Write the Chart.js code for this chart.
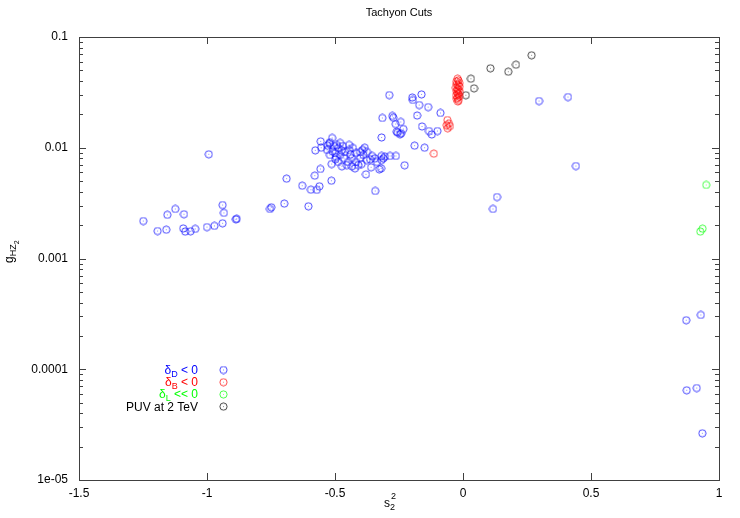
<!DOCTYPE html>
<html>
<head>
<meta charset="utf-8">
<script src="https://cdn.jsdelivr.net/npm/chart.js@4"></script>
<style>
	html, body { margin: 0; padding: 0; background: #fff; }
	canvas { display: block; }
</style>
</head>
<body>
<canvas id="chart" width="740" height="518"></canvas>
<script>
// [s2, g_HZ2] pairs
const bluePts = [
	[-1.249, 0.00218], [-1.193, 0.00177], [-1.159, 0.00182], [-1.155, 0.00248], [-1.124, 0.0028],
	[-1.09, 0.00251], [-1.093, 0.00187], [-1.085, 0.00175], [-1.064, 0.00176], [-1.046, 0.00185],
	[-1.0, 0.00192], [-0.971, 0.00197], [-0.939, 0.00208], [-0.939, 0.00304], [-0.934, 0.00258],
	[-0.887, 0.00226], [-0.884, 0.00228], [-0.993, 0.00873], [-0.754, 0.0028], [-0.749, 0.0029],
	[-0.698, 0.00313], [-0.689, 0.00526], [-0.628, 0.00454], [-0.604, 0.00296], [-0.594, 0.00418],
	[-0.571, 0.00416], [-0.561, 0.00449], [-0.579, 0.0056], [-0.557, 0.00643], [-0.514, 0.00504],
	[-0.577, 0.00948], [-0.556, 0.01143], [-0.554, 0.01], [-0.522, 0.01088], [-0.52, 0.0112],
	[-0.511, 0.01225], [-0.493, 0.01059], [-0.529, 0.01044], [-0.504, 0.01037], [-0.509, 0.00929],
	[-0.496, 0.00825], [-0.499, 0.00787], [-0.48, 0.00861], [-0.474, 0.00948], [-0.445, 0.00955],
	[-0.439, 0.00873], [-0.392, 0.00955], [-0.384, 0.01], [-0.389, 0.00861], [-0.513, 0.00713],
	[-0.473, 0.0068], [-0.454, 0.00698], [-0.434, 0.0068], [-0.422, 0.00652], [-0.409, 0.00698],
	[-0.396, 0.00713], [-0.376, 0.00775], [-0.363, 0.00787], [-0.344, 0.00803], [-0.318, 0.00843],
	[-0.305, 0.0083], [-0.285, 0.00843], [-0.262, 0.00843], [-0.318, 0.00775], [-0.311, 0.00803],
	[-0.32, 0.00652], [-0.359, 0.00666], [-0.379, 0.00575], [-0.228, 0.00695], [-0.343, 0.00407],
	[-0.327, 0.00639], [-0.318, 0.01238], [-0.259, 0.01396], [-0.242, 0.0135], [-0.233, 0.01476],
	[-0.189, 0.01044], [-0.15, 0.01], [-0.16, 0.01556], [-0.133, 0.01416], [-0.122, 0.01318],
	[-0.1, 0.01416], [-0.288, 0.0299], [-0.198, 0.0284], [-0.196, 0.027], [-0.162, 0.0303],
	[-0.171, 0.0243], [-0.136, 0.0233], [-0.088, 0.0206], [-0.315, 0.01857], [-0.276, 0.01936],
	[-0.272, 0.01866], [-0.263, 0.01637], [-0.243, 0.0171], [-0.179, 0.01955], [-0.255, 0.01368],
	[-0.246, 0.01323], [-0.48, 0.01104], [-0.461, 0.00916], [-0.434, 0.00807], [-0.418, 0.00897],
	[-0.402, 0.00807], [-0.488, 0.00744], [-0.465, 0.00807], [-0.449, 0.00744], [-0.418, 0.00744],
	[-0.375, 0.00916], [-0.355, 0.00843], [-0.336, 0.00744], [-0.531, 0.00955], [-0.52, 0.00861],
	[-0.5, 0.00897], [-0.488, 0.00995], [-0.469, 0.01037], [-0.402, 0.00916], [-0.43, 0.00995],
	[-0.445, 0.01059],
	[0.297, 0.0264], [0.41, 0.0287], [0.441, 0.00684], [0.117, 0.0028], [0.133, 0.00359],
	[0.872, 0.000277], [0.929, 0.000309], [0.874, 0.0000646], [0.913, 0.0000677], [0.935, 0.0000264]
];

const redPts = [
	[-0.021, 0.042], [-0.018, 0.0405], [-0.026, 0.0395], [-0.015, 0.0385], [-0.024, 0.0375],
	[-0.019, 0.0365], [-0.013, 0.0357], [-0.028, 0.0348], [-0.021, 0.034], [-0.017, 0.0332],
	[-0.025, 0.0325], [-0.012, 0.0318], [-0.022, 0.0311], [-0.018, 0.0304], [-0.027, 0.0297],
	[-0.015, 0.029], [-0.021, 0.0283], [-0.024, 0.0276], [-0.017, 0.0269], [-0.02, 0.0262],
	[-0.061, 0.0178], [-0.064, 0.016], [-0.051, 0.0157], [-0.06, 0.015], [-0.055, 0.0165],
	[-0.114, 0.00884]
];

const greenPts = [[0.95, 0.00461], [0.936, 0.00186], [0.927, 0.00175]];

const blackPts = [
	[0.011, 0.0298], [0.043, 0.0344], [0.031, 0.042], [0.107, 0.0522],
	[0.177, 0.0486], [0.207, 0.0562], [0.268, 0.0684]
];

const xTicks = [-1.5, -1, -0.5, 0, 0.5, 1];
const xTickLabels = ["-1.5", "-1", "-0.5", "0", "0.5", "1"];
const yTicks = [1e-5, 1e-4, 1e-3, 1e-2, 1e-1];
const yTickLabels = ["1e-05", "0.0001", "0.001", "0.01", "0.1"];

const legendItems = [
	{ base: "δ", sub: "D", rest: " < 0", color: "#0000ff" },
	{ base: "δ", sub: "B", rest: " < 0", color: "#ff0000" },
	{ base: "δ", sub: "L", rest: " << 0", color: "#00ff00" },
	{ base: "PUV at 2 TeV", sub: "", rest: "", color: "#000000" },
];

const FONT = "'Liberation Sans', Arial, sans-serif";
const FRAME = "#404040";

// gnuplot style open circle with a faint dot in the middle
function ring(color) {
	const c = document.createElement("canvas");
	c.width = 9;
	c.height = 9;
	const g = c.getContext("2d");
	g.strokeStyle = color;
	g.lineWidth = 1;
	g.globalAlpha = 0.72;
	g.beginPath();
	g.arc(4.5, 4.5, 3.6, 0, Math.PI * 2);
	g.stroke();
	g.globalAlpha = 0.45;
	g.fillStyle = color;
	g.fillRect(4, 4, 1, 1);
	return c;
}

const rings = legendItems.map((it) => ring(it.color));

function toXY(arr) {
	return arr.map((p) => ({ x: p[0], y: p[1] }));
}

const frameAndText = {
	id: "frameAndText",
	beforeDatasetsDraw(chart) {
		const ctx = chart.ctx;
		const a = chart.chartArea;
		const xs = chart.scales.x;
		const ys = chart.scales.y;
		ctx.save();
		ctx.strokeStyle = FRAME;
		ctx.lineWidth = 1;
		ctx.strokeRect(Math.round(a.left) + 0.5, Math.round(a.top) + 0.5,
			Math.round(a.right - a.left), Math.round(a.bottom - a.top));
		ctx.beginPath();
		xTicks.forEach((v) => {
			const px = Math.round(xs.getPixelForValue(v)) + 0.5;
			ctx.moveTo(px, a.bottom); ctx.lineTo(px, a.bottom - 7);
			ctx.moveTo(px, a.top); ctx.lineTo(px, a.top + 7);
		});
		yTicks.forEach((v) => {
			const py = Math.round(ys.getPixelForValue(v)) + 0.5;
			ctx.moveTo(a.left, py); ctx.lineTo(a.left + 7, py);
			ctx.moveTo(a.right, py); ctx.lineTo(a.right - 7, py);
		});
		for (let d = 1e-5; d < 0.09; d *= 10) {
			for (let k = 2; k <= 9; k++) {
				const py = Math.round(ys.getPixelForValue(k * d)) + 0.5;
				ctx.moveTo(a.left, py); ctx.lineTo(a.left + 4, py);
				ctx.moveTo(a.right, py); ctx.lineTo(a.right - 4, py);
			}
		}
		ctx.stroke();
		ctx.restore();
	},
	afterDraw(chart) {
		const ctx = chart.ctx;
		const a = chart.chartArea;
		ctx.save();
		ctx.fillStyle = "#000";
		ctx.textBaseline = "alphabetic";

		// title
		ctx.font = "11px " + FONT;
		ctx.textAlign = "center";
		ctx.fillText("Tachyon Cuts", (a.left + a.right) / 2, 16);

		// x title: s_2^2
		ctx.textAlign = "left";
		let x0 = 384;
		ctx.font = "12px " + FONT;
		ctx.fillText("s", x0, 507);
		const sw = ctx.measureText("s").width;
		ctx.font = "9px " + FONT;
		ctx.fillText("2", x0 + sw, 510);
		ctx.fillText("2", x0 + sw + 1, 499);

		// y title: g_{HZ_2}
		ctx.save();
		ctx.translate(12.5, 263);
		ctx.rotate(-Math.PI / 2);
		ctx.font = "12px " + FONT;
		ctx.fillText("g", 0, 0);
		let w = ctx.measureText("g").width;
		ctx.font = "9px " + FONT;
		ctx.fillText("HZ", w, 3);
		w += ctx.measureText("HZ").width;
		ctx.font = "7px " + FONT;
		ctx.fillText("2", w, 6);
		ctx.restore();

		// key
		legendItems.forEach((it, i) => {
			const cy = 370 + i * 12.2;
			ctx.font = "12px " + FONT;
			const bw = ctx.measureText(it.base).width;
			const rw = ctx.measureText(it.rest).width;
			ctx.font = "9px " + FONT;
			const subw = ctx.measureText(it.sub).width;
			let tx = 198 - (bw + subw + rw);
			ctx.fillStyle = it.color;
			ctx.font = "12px " + FONT;
			ctx.fillText(it.base, tx, cy + 4);
			tx += bw;
			ctx.font = "9px " + FONT;
			ctx.fillText(it.sub, tx, cy + 7);
			tx += subw;
			ctx.font = "12px " + FONT;
			ctx.fillText(it.rest, tx, cy + 4);
			ctx.drawImage(rings[i], 223.5 - 4.5, cy - 4.5);
		});
		ctx.restore();
	},
};

const ctx = document.getElementById("chart").getContext("2d");
const chart = new Chart(ctx, {
	type: "scatter",
	data: {
		datasets: [
			{ label: "dD", data: toXY(bluePts), pointStyle: rings[0], pointRadius: 4 },
			{ label: "dB", data: toXY(redPts), pointStyle: rings[1], pointRadius: 4 },
			{ label: "dL", data: toXY(greenPts), pointStyle: rings[2], pointRadius: 4 },
			{ label: "PUV", data: toXY(blackPts), pointStyle: rings[3], pointRadius: 4 },
		],
	},
	options: {
		responsive: false,
		animation: false,
		events: [],
		layout: { padding: { top: 37, right: 21, left: 0, bottom: 0 } },
		plugins: {
			legend: { display: false },
			title: { display: false },
			tooltip: { enabled: false },
		},
		scales: {
			x: {
				type: "linear",
				min: -1.5,
				max: 1,
				grid: { display: false, drawTicks: false },
				border: { display: false },
				afterBuildTicks: (s) => { s.ticks = xTicks.map((v) => ({ value: v })); },
				afterFit: (s) => { s.height = 38; },
				ticks: {
					autoSkip: false,
					maxRotation: 0,
					padding: 6,
					color: "#000",
					font: { family: FONT, size: 12 },
					callback: (v, i) => xTickLabels[i],
				},
			},
			y: {
				type: "logarithmic",
				min: 1e-5,
				max: 0.1,
				grid: { display: false, drawTicks: false },
				border: { display: false },
				afterBuildTicks: (s) => { s.ticks = yTicks.map((v) => ({ value: v })); },
				afterFit: (s) => { s.width = 79; },
				ticks: {
					autoSkip: false,
					padding: 11,
					color: "#000",
					font: { family: FONT, size: 12 },
					callback: (v, i) => yTickLabels[i],
				},
			},
		},
	},
	plugins: [frameAndText],
});
</script>
</body>
</html>
